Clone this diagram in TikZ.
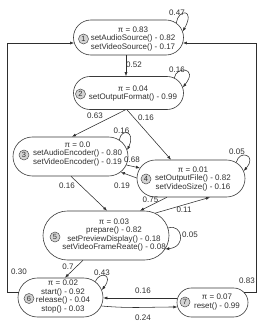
\documentclass[tikz,border=0pt]{standalone}
\usepackage{fontspec}
\setmainfont{Liberation Sans}
\usetikzlibrary{arrows.meta}
\definecolor{boxc}{HTML}{3A3A3A}
\definecolor{linec}{HTML}{2E2E2E}
\definecolor{txtc}{HTML}{303030}
\definecolor{numc}{HTML}{505050}
\definecolor{numfill}{HTML}{D4D4D4}
\tikzset{
  statebox/.style={draw=boxc, line width=0.6pt, rectangle, inner sep=0pt, fill=white},
  stext/.style={font=\fontsize{8}{8.5}\selectfont, align=center, inner sep=0pt, text=txtc},
  num/.style={circle, draw=numc, fill=numfill, line width=0.5pt, minimum size=10pt, inner sep=0pt, font=\fontsize{7.5}{8}\selectfont, text=txtc},
  edge/.style={draw=linec, line width=0.55pt, -{Latex[length=4pt,width=3pt]}},
  lab/.style={font=\fontsize{8}{9}\selectfont, inner sep=0pt, text=txtc},
}
\begin{document}
\begin{tikzpicture}[x=1pt,y=-1pt]
\useasboundingbox[fill=white] (0,0) rectangle (262,329);
% state boxes
\node[statebox, minimum width=110pt, minimum height=35pt, rounded corners=17.4pt] (n1) at (128.5,37.5) {};
\node[statebox, minimum width=110pt, minimum height=33pt, rounded corners=16.4pt] (n2) at (128.5,93) {};
\node[statebox, minimum width=115pt, minimum height=39pt, rounded corners=19.4pt] (n3) at (70.5,156.5) {};
\node[statebox, minimum width=108pt, minimum height=37pt, rounded corners=18.4pt] (n4) at (191,178.5) {};
\node[statebox, minimum width=126pt, minimum height=49pt, rounded corners=24.4pt] (n5) at (106,235.5) {};
\node[statebox, minimum width=85pt, minimum height=39pt, rounded corners=19.4pt] (n6) at (60.5,297.5) {};
\node[statebox, minimum width=71pt, minimum height=29pt, rounded corners=14.4pt] (n7) at (212.5,302.5) {};
% numbers
\node[num] (c1) at (83.5,39) {1};
\node[num] (c2) at (80.5,94) {2};
\node[num] (c3) at (24,155) {3};
\node[num] (c4) at (146,179) {4};
\node[num] (c5) at (55,237) {5};
\node[num] (c6) at (29,298.5) {6};
\node[num] (c7) at (185,302) {7};
% texts
\node[stext] (t1) at (133,39) {π = 0.83\\setAudioSource() - 0.82\\setVideoSource() - 0.17};
\node[stext] (t2) at (133,93.3) {π = 0.04\\setOutputFormat() - 0.99};
\node[stext] (t3) at (77.5,154) {π = 0.0\\setAudioEncoder() - 0.80\\setVideoEncoder() - 0.19};
\node[stext] (t4) at (193,179) {π = 0.01\\setOutputFile() - 0.82\\setVideoSize() - 0.16};
\node[stext] (t5) at (114,235.25) {π = 0.03\\prepare() - 0.82\\setPreviewDisplay() - 0.18\\setVideoFrameReate() - 0.08};
\node[stext] (t6) at (63,296.75) {π = 0.02\\start() - 0.92\\release() - 0.04\\stop() - 0.03};
\node[stext] (t7) at (217,302.25) {π = 0.07\\reset() - 0.99};
% helper corners
\coordinate (lc) at (7,43);
\coordinate (rc) at (256,43);
% edges
\draw[edge] ([xshift=-2.5pt]n1.south) -- ([xshift=-2.5pt]n2.north);
\draw[edge] ([xshift=-7.5pt,yshift=-3.1pt]n1.north east) .. controls +(2,-14) and +(13,-23) .. ([xshift=-1.1pt,yshift=6pt]n1.east);
\draw[edge] ([xshift=-9.5pt,yshift=-1.6pt]n2.north east) .. controls +(2,-12) and +(16,-20) .. ([xshift=-1pt,yshift=5.6pt]n2.east);
\draw[edge] ([xshift=-3pt]n2.south) -- ([xshift=1.5pt]n3.north);
\draw[edge] ([xshift=-1.5pt]n2.south) -- ([xshift=-20pt]n4.north);
\draw[edge] ([xshift=-9pt,yshift=-3.1pt]n3.north east) .. controls +(2,-12) and +(9,-19) .. ([xshift=-1.1pt,yshift=6.5pt]n3.east);
\draw[edge] ([xshift=-1.95pt,yshift=-8.5pt]n3.east) -- ([xshift=3.3pt,yshift=10.5pt]n4.west);
\draw[edge] ([yshift=0.5pt]n4.west) -- ([xshift=-7.5pt,yshift=4.15pt]n3.south east);
\draw[edge] ([xshift=-9pt,yshift=-2.6pt]n4.north east) .. controls +(3,-13) and +(14,-16) .. ([xshift=-1.6pt,yshift=7.5pt]n4.east);
\draw[edge] ([xshift=0.5pt]n3.south) -- ([xshift=1pt]n5.north);
\draw[edge] ([xshift=-24pt]n4.south) -- ([xshift=34pt]n5.north);
\draw[edge] ([xshift=-14pt,yshift=-2.4pt]n5.north east) -- ([xshift=19pt]n4.south);
\draw[edge] ([xshift=-1.2pt,yshift=7.5pt]n5.east) .. controls +(14,-5) and +(22,-2) .. ([xshift=-4.1pt,yshift=-13.5pt]n5.east);
\draw[edge] ([xshift=-23pt]n5.south) -- ([xshift=4.5pt]n6.north);
\draw[edge] ([xshift=-8pt,yshift=-3.75pt]n6.north east) .. controls +(5,-11) and +(12,-15) .. ([xshift=-1.5pt,yshift=7.5pt]n6.east);
\draw[edge] ([xshift=0.8pt,yshift=5.5pt]n6.west) -| (lc) -- ([xshift=0.9pt,yshift=-5.5pt]n1.west);
\draw[edge] ([xshift=-4pt,yshift=10pt]n7.east) -| (rc) -- ([xshift=-0.9pt,yshift=-5.5pt]n1.east);
\draw[edge] ([xshift=0.7pt,yshift=4.5pt]n7.west) -- ([yshift=-0.5pt]n6.east);
\draw[edge] ([xshift=-1.95pt,yshift=-8.5pt]n6.east) to[out=-5,in=180] ([xshift=0.7pt,yshift=-4.5pt]n7.west);
% labels
\node[lab] (l1) at (177,12.5) {0.47};
\node[lab] (l2) at (134,65) {0.52};
\node[lab] (l3) at (177,70) {0.16};
\node[lab] (l4) at (95,116) {0.63};
\node[lab] (l5) at (146,118) {0.16};
\node[lab] (l6) at (121.5,131) {0.16};
\node[lab] (l7) at (237,151.5) {0.05};
\node[lab] (l8) at (132,159.5) {0.68};
\node[lab] (l9) at (122,186) {0.19};
\node[lab] (l10) at (67,186) {0.16};
\node[lab] (l11) at (150.5,200) {0.75};
\node[lab] (l12) at (184,210) {0.11};
\node[lab] (l13) at (190,235) {0.05};
\node[lab] (l14) at (68,267) {0.7};
\node[lab] (l15) at (19,272) {0.30};
\node[lab] (l16) at (102,272.5) {0.43};
\node[lab] (l17) at (247,281) {0.83};
\node[lab] (l18) at (143,291) {0.16};
\node[lab] (l19) at (143,317.5) {0.24};
\end{tikzpicture}
\end{document}
